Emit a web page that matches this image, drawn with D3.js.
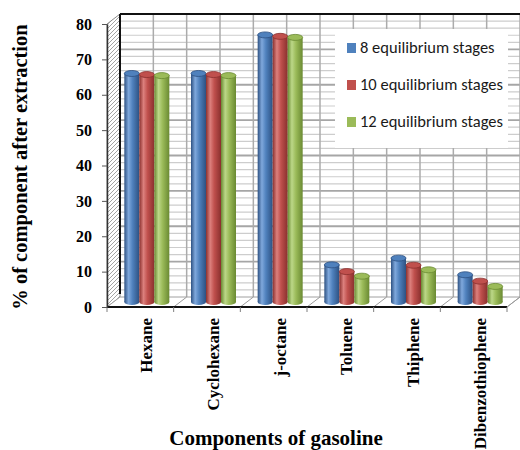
<!DOCTYPE html>
<html>
<head>
<meta charset="utf-8">
<script src="https://cdnjs.cloudflare.com/ajax/libs/d3/7.8.5/d3.min.js"></script>
<style>
  html, body { margin: 0; padding: 0; background: #fff; }
  svg { display: block; }
</style>
</head>
<body>
<svg id="chart" width="520" height="450"></svg>
<script>
// Share of each gasoline component left after extraction, by number of stages
const categories = ["Hexane", "Cyclohexane", "j-octane", "Toluene", "Thiphene", "Dibenzothiophene"];
const seriesNames = ["8 equilibrium stages", "10 equilibrium stages", "12 equilibrium stages"];
const stages8  = [64.6, 64.6, 75.5, 10.5, 12.4, 7.7];
const stages10 = [64.3, 64.3, 75.1, 8.6, 10.4, 5.9];
const stages12 = [64.0, 64.0, 74.8, 7.3, 9.1, 4.4];
const yTicks = [0, 10, 20, 30, 40, 50, 60, 70, 80];
const yTitle = "% of component after extraction";
const xTitle = "Components of gasoline";

const seriesValues = [stages8, stages10, stages12];
const colors = ["#4f81bd", "#c0504d", "#9bbb59"];
const darks  = ["#2d5182", "#8a302e", "#6a8a32"];
const lights = ["#7fa8dc", "#dc807d", "#bcd788"];

const svg = d3.select("#chart");
const defs = svg.append("defs");

// front-plane scales; the back wall and bar plane are shifted by a depth offset
const x = d3.scaleBand().domain(categories).range([107, 507]);
const y = d3.scaleLinear().domain([0, 80]).range([307, 24]);
const back = { dx: 13, dy: -10 };
const mid = { dx: 6.5, dy: -5 };
const barW = 15;
const xs = d3.scaleBand().domain(seriesNames).range([0, barW * 3]);

// hatch for the side wall
const hatch = defs.append("pattern")
  .attr("id", "hatch").attr("patternUnits", "userSpaceOnUse")
  .attr("width", 4).attr("height", 4);
hatch.append("path").attr("d", "M-1,1 l2,-2 M0,4 l4,-4 M3,5 l2,-2")
  .attr("stroke", "#9a9a9a").attr("stroke-width", 0.9);

// cylinder gradients
colors.forEach((c, i) => {
  const g = defs.append("linearGradient").attr("id", "cyl" + i)
    .attr("x1", "0%").attr("x2", "100%").attr("y1", "0%").attr("y2", "0%");
  g.append("stop").attr("offset", "0%").attr("stop-color", darks[i]);
  g.append("stop").attr("offset", "28%").attr("stop-color", lights[i]);
  g.append("stop").attr("offset", "55%").attr("stop-color", c);
  g.append("stop").attr("offset", "100%").attr("stop-color", darks[i]);
});

const wallLeft = x.range()[0] + back.dx;
const wallRight = x.range()[1] + back.dx;

// back wall
svg.append("rect")
  .attr("x", wallLeft).attr("y", y(80) + back.dy)
  .attr("width", wallRight - wallLeft).attr("height", y(0) - y(80))
  .attr("fill", "#fff");

// minor horizontal gridlines every 2 units
const minor = d3.range(2, 80, 2).filter(v => v % 10 !== 0);
svg.append("g").selectAll("line").data(minor).join("line")
  .attr("x1", wallLeft).attr("x2", wallRight)
  .attr("y1", d => y(d) + back.dy).attr("y2", d => y(d) + back.dy)
  .attr("stroke", "#cdcdcd").attr("stroke-width", 1.2);

// major horizontal gridlines
svg.append("g").selectAll("line").data(yTicks.filter(v => v > 0 && v < 80)).join("line")
  .attr("x1", wallLeft).attr("x2", wallRight)
  .attr("y1", d => y(d) + back.dy).attr("y2", d => y(d) + back.dy)
  .attr("stroke", "#a6a6a6").attr("stroke-width", 1.8);

// vertical gridlines at category edges and centres
const vLines = [];
categories.forEach(c => { vLines.push(x(c)); vLines.push(x(c) + x.bandwidth() / 2); });
vLines.push(x.range()[1]);
svg.append("g").selectAll("line").data(vLines.slice(1)).join("line")
  .attr("x1", d => d + back.dx).attr("x2", d => d + back.dx)
  .attr("y1", y(80) + back.dy).attr("y2", y(0) + back.dy)
  .attr("stroke", "#ababab").attr("stroke-width", 1.5);

// side wall
const sx0 = x.range()[0];
svg.append("path")
  .attr("d", `M${sx0},${y(80)} L${wallLeft},${y(80) + back.dy} L${wallLeft},${y(0) + back.dy} L${sx0},${y(0)} Z`)
  .attr("fill", "url(#hatch)").attr("stroke", "#8c8c8c").attr("stroke-width", 1);

// floor
svg.append("path")
  .attr("d", `M${sx0},${y(0)} L${wallLeft},${y(0) + back.dy} L${wallRight},${y(0) + back.dy} L${x.range()[1]},${y(0)} Z`)
  .attr("fill", "#fff").attr("stroke", "#a0a0a0").attr("stroke-width", 1);
svg.append("g").selectAll("line").data(categories.slice(1).map(c => x(c)).concat([x.range()[1]])).join("line")
  .attr("x1", d => d).attr("y1", y(0))
  .attr("x2", d => d + back.dx).attr("y2", y(0) + back.dy)
  .attr("stroke", "#9a9a9a").attr("stroke-width", 1);

// dark frame edges of the wall
svg.append("line")
  .attr("x1", wallLeft).attr("x2", wallRight)
  .attr("y1", y(80) + back.dy).attr("y2", y(80) + back.dy)
  .attr("stroke", "#111").attr("stroke-width", 2);
svg.append("line")
  .attr("x1", wallLeft).attr("x2", wallLeft)
  .attr("y1", y(80) + back.dy).attr("y2", y(0) + back.dy - 3)
  .attr("stroke", "#111").attr("stroke-width", 2);

// cylinders
const groups = svg.append("g").selectAll("g").data(categories).join("g");
groups.each(function(cat, ci) {
  const g = d3.select(this);
  const x0 = x(cat) + mid.dx + (x.bandwidth() - barW * 3) / 2;
  seriesNames.forEach((s, si) => {
    const v = seriesValues[si][ci];
    const cx = x0 + xs(s) + barW / 2;
    const top = y(v) + mid.dy;
    const base = y(0) + mid.dy;
    const ry = 3;
    g.append("ellipse").attr("cx", cx).attr("cy", base).attr("rx", barW / 2).attr("ry", ry)
      .attr("fill", `url(#cyl${si})`);
    g.append("rect").attr("x", cx - barW / 2).attr("y", top).attr("width", barW).attr("height", base - top)
      .attr("fill", `url(#cyl${si})`);
    g.append("ellipse").attr("cx", cx).attr("cy", top).attr("rx", barW / 2).attr("ry", ry)
      .attr("fill", colors[si]).attr("stroke", darks[si]).attr("stroke-width", 0.8);
  });
});

// front floor edge with category boundary ticks
svg.append("line")
  .attr("x1", x.range()[0]).attr("x2", x.range()[1])
  .attr("y1", y(0)).attr("y2", y(0))
  .attr("stroke", "#111").attr("stroke-width", 2);
svg.append("g").selectAll("line").data(categories.map(c => x(c)).concat([x.range()[1]])).join("line")
  .attr("x1", d => d).attr("x2", d => d)
  .attr("y1", y(0)).attr("y2", y(0) + 5)
  .attr("stroke", "#7f7f7f").attr("stroke-width", 1);

// value axis
const yAxis = svg.append("g").attr("transform", `translate(${sx0},0)`)
  .call(d3.axisLeft(y).tickValues(yTicks).tickSize(5).tickPadding(10).tickSizeOuter(0));
yAxis.select(".domain").attr("stroke", "#333").attr("stroke-width", 1.5);
yAxis.selectAll(".tick line").attr("stroke", "#555");
yAxis.selectAll(".tick text")
  .attr("font-family", "'Liberation Serif', 'Times New Roman', serif")
  .attr("font-weight", "bold").attr("font-size", 16).attr("fill", "#000");

// category labels, rotated
svg.append("g").selectAll("text").data(categories).join("text")
  .attr("transform", d => `translate(${x(d) + x.bandwidth() / 2 + mid.dx + 5.5},318) rotate(-90)`)
  .attr("text-anchor", "end")
  .attr("font-family", "'Liberation Serif', 'Times New Roman', serif")
  .attr("font-weight", "bold").attr("font-size", 17).attr("fill", "#000")
  .text(d => d);

// axis titles
svg.append("text")
  .attr("transform", "translate(27,167) rotate(-90)")
  .attr("text-anchor", "middle")
  .attr("font-family", "'Liberation Serif', 'Times New Roman', serif")
  .attr("font-weight", "bold").attr("font-size", 20.5).attr("fill", "#000")
  .text(yTitle);
svg.append("text")
  .attr("x", 276).attr("y", 445)
  .attr("text-anchor", "middle")
  .attr("font-family", "'Liberation Serif', 'Times New Roman', serif")
  .attr("font-weight", "bold").attr("font-size", 21).attr("fill", "#000")
  .text(xTitle);

// legend
const legend = svg.append("g");
legend.append("rect").attr("x", 335).attr("y", 29).attr("width", 173).attr("height", 119).attr("fill", "#fff");
const rows = legend.selectAll("g").data(seriesNames).join("g")
  .attr("transform", (d, i) => `translate(347,${48 + i * 37})`);
rows.append("rect").attr("x", 0).attr("y", -5).attr("width", 9).attr("height", 10)
  .attr("fill", (d, i) => colors[i]);
const legendText = rows.append("text").attr("x", 13).attr("y", 5)
  .attr("font-family", "Carlito, Calibri, Lato, 'Open Sans', sans-serif")
  .attr("font-size", 15).attr("fill", "#1a1a1a")
  .text(d => d);
// fit the legend font so the longest entry spans its box
const longest = d3.max(legendText.nodes(), n => n.getComputedTextLength());
if (longest > 0) legendText.attr("font-size", 15 * 143 / longest);
</script>
</body>
</html>
